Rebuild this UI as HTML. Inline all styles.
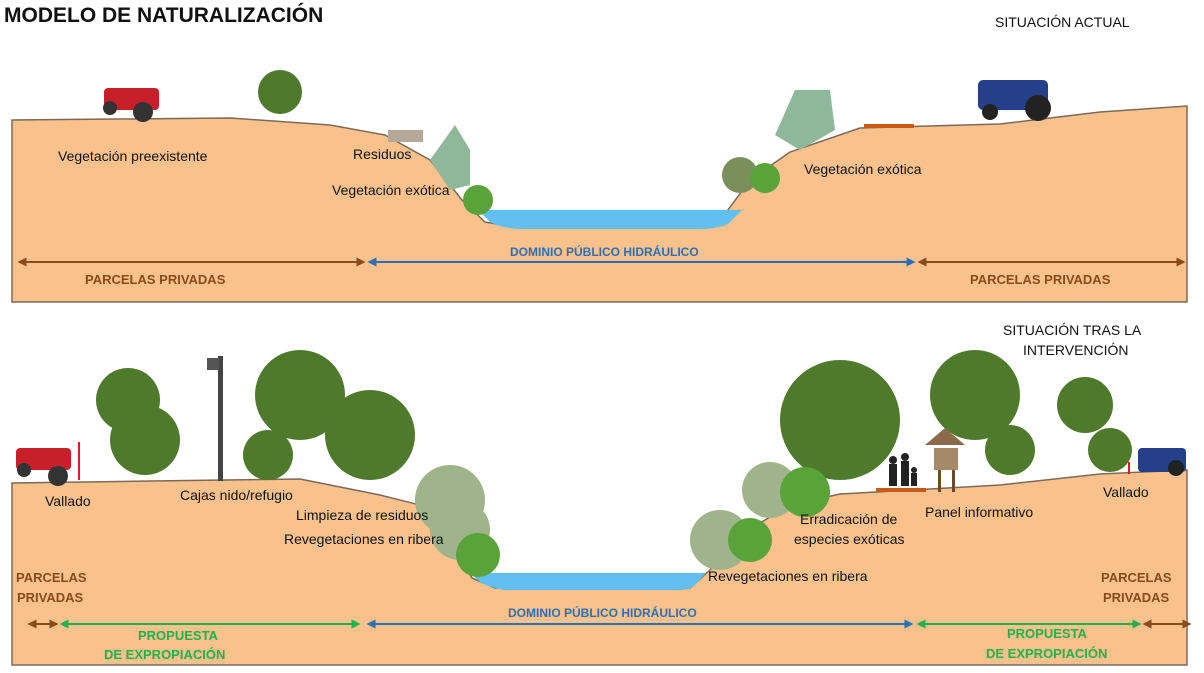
<!DOCTYPE html>
<html><head><meta charset="utf-8"><style>
html,body{margin:0;padding:0;background:#fff;}
svg{display:block;font-family:"Liberation Sans",sans-serif;}
</style></head><body>
<svg width="1204" height="673" viewBox="0 0 1204 673" xmlns="http://www.w3.org/2000/svg">
<defs>
<marker id="ab" viewBox="0 0 10 10" refX="5" refY="5" markerWidth="4.5" markerHeight="4.5" orient="auto-start-reverse"><path d="M0,0L10,5L0,10z" fill="#8a4a1c"/></marker>
<marker id="abl" viewBox="0 0 10 10" refX="5" refY="5" markerWidth="4.5" markerHeight="4.5" orient="auto-start-reverse"><path d="M0,0L10,5L0,10z" fill="#2d6fb6"/></marker>
<marker id="ag" viewBox="0 0 10 10" refX="5" refY="5" markerWidth="4.5" markerHeight="4.5" orient="auto-start-reverse"><path d="M0,0L10,5L0,10z" fill="#22b04a"/></marker>
</defs>
<text x="4" y="22" font-size="21" font-weight="bold" fill="#111">MODELO DE NATURALIZACIÓN</text>
<text x="995" y="27" font-size="14" fill="#111">SITUACIÓN ACTUAL</text>
<text x="1003" y="335" font-size="14" fill="#111">SITUACIÓN TRAS LA</text>
<text x="1023" y="355" font-size="14" fill="#111">INTERVENCIÓN</text>

<path d="M12,120 L230,118 L330,125 L385,135 L430,160 L462,200 L485,222 L520,228 L700,228 L728,210 L750,180 L790,152 L860,128 L1000,124 L1100,112 L1187,106 L1187,302 L12,302Z" fill="#f9c28c" stroke="#7b6a5a" stroke-width="1.5"/>
<path d="M478,210 L742,210 L728,224 Q715,229 700,229 L520,229 Q500,228 490,222Z" fill="#62bff0"/>
<rect x="104" y="88" width="55" height="22" rx="4" fill="#c8202a"/><circle cx="143" cy="112" r="10" fill="#333"/><circle cx="110" cy="108" r="7" fill="#333"/>
<circle cx="280" cy="92" r="22" fill="#4f7a2c"/>
<rect x="388" y="130" width="35" height="12" fill="#b7a99a"/>
<path d="M430,160 L455,125 L470,150 L470,185 L450,190Z" fill="#8fb89a"/>
<circle cx="478" cy="200" r="15" fill="#5aa23a"/><circle cx="740" cy="175" r="18" fill="#7a8f5a"/><circle cx="765" cy="178" r="15" fill="#5aa23a"/>
<path d="M775,135 L795,90 L830,90 L835,130 L800,150Z" fill="#8fb89a"/>
<rect x="864" y="124" width="50" height="4" fill="#c55a1a"/>
<rect x="978" y="80" width="70" height="30" rx="5" fill="#24408a"/><circle cx="1038" cy="108" r="13" fill="#222"/><circle cx="990" cy="112" r="8" fill="#222"/>
<text x="58" y="161" font-size="14" fill="#111">Vegetación preexistente</text>
<text x="353" y="159" font-size="14" fill="#111">Residuos</text>
<text x="332" y="195" font-size="14" fill="#111">Vegetación exótica</text>
<text x="804" y="174" font-size="14" fill="#111">Vegetación exótica</text>
<text x="510" y="256" font-size="12" font-weight="bold" fill="#2d6fb6">DOMINIO PÚBLICO HIDRÁULICO</text>
<line x1="22" y1="262" x2="361" y2="262" stroke="#8a4a1c" stroke-width="2" marker-start="url(#ab)" marker-end="url(#ab)"/>
<line x1="372" y1="262" x2="911" y2="262" stroke="#2d6fb6" stroke-width="2" marker-start="url(#abl)" marker-end="url(#abl)"/>
<line x1="922" y1="262" x2="1181" y2="262" stroke="#8a4a1c" stroke-width="2" marker-start="url(#ab)" marker-end="url(#ab)"/>
<text x="85" y="284" font-size="13" font-weight="bold" fill="#8a4a1c">PARCELAS PRIVADAS</text>
<text x="970" y="284" font-size="13" font-weight="bold" fill="#8a4a1c">PARCELAS PRIVADAS</text>

<path d="M12,483 L150,481 L300,479 L380,495 L420,505 L450,540 L472,578 L495,588 L690,588 L710,570 L740,535 L790,505 L840,494 L930,489 L1000,485 L1100,474 L1187,470 L1187,665 L12,665Z" fill="#f9c28c" stroke="#7b6a5a" stroke-width="1.5"/>
<path d="M470,573 L706,573 L694,586 Q688,590 680,590 L505,590 Q490,588 480,582Z" fill="#62bff0"/>
<g fill="#4f7a2c">
<circle cx="128" cy="400" r="32"/><circle cx="145" cy="440" r="35"/>
<circle cx="300" cy="395" r="45"/><circle cx="268" cy="455" r="25"/><circle cx="370" cy="435" r="45"/>
<circle cx="840" cy="420" r="60"/><circle cx="975" cy="395" r="45"/><circle cx="1010" cy="450" r="25"/>
<circle cx="1085" cy="405" r="28"/><circle cx="1110" cy="450" r="22"/>
</g>
<g fill="#9fb48a"><circle cx="450" cy="500" r="35"/><circle cx="460" cy="530" r="30"/><circle cx="720" cy="540" r="30"/><circle cx="770" cy="490" r="28"/></g>
<g fill="#5aa23a"><circle cx="478" cy="555" r="22"/><circle cx="750" cy="540" r="22"/><circle cx="805" cy="492" r="25"/></g>
<rect x="218" y="356" width="5" height="125" fill="#444"/><rect x="207" y="358" width="12" height="12" fill="#555"/>
<rect x="16" y="448" width="55" height="22" rx="4" fill="#c8202a"/><circle cx="58" cy="476" r="10" fill="#333"/><circle cx="24" cy="470" r="7" fill="#333"/>
<rect x="78" y="442" width="2" height="38" fill="#e01c1c"/>
<rect x="1138" y="448" width="48" height="24" rx="4" fill="#24408a"/><circle cx="1176" cy="468" r="8" fill="#222"/>
<rect x="1128" y="462" width="2" height="12" fill="#e01c1c"/>
<rect x="876" y="488" width="50" height="4" fill="#c55a1a"/>
<g fill="#222"><circle cx="893" cy="460" r="4"/><rect x="889" y="464" width="8" height="22"/><circle cx="905" cy="457" r="4"/><rect x="901" y="461" width="8" height="25"/><circle cx="914" cy="470" r="3"/><rect x="911" y="473" width="6" height="13"/></g>
<path d="M925,445 L945,428 L965,445Z" fill="#8a6a4a"/><rect x="934" y="448" width="24" height="22" fill="#a58a6a"/><rect x="938" y="470" width="3" height="22" fill="#6a4a2a"/><rect x="952" y="470" width="3" height="22" fill="#6a4a2a"/>
<text x="45" y="506" font-size="14" fill="#111">Vallado</text>
<text x="180" y="500" font-size="14" fill="#111">Cajas nido/refugio</text>
<text x="296" y="520" font-size="14" fill="#111">Limpieza de residuos</text>
<text x="284" y="544" font-size="14" fill="#111">Revegetaciones en ribera</text>
<text x="800" y="524" font-size="14" fill="#111">Erradicación de</text>
<text x="794" y="544" font-size="14" fill="#111">especies exóticas</text>
<text x="925" y="517" font-size="14" fill="#111">Panel informativo</text>
<text x="1103" y="497" font-size="14" fill="#111">Vallado</text>
<text x="708" y="581" font-size="14" fill="#111">Revegetaciones en ribera</text>
<text x="16" y="582" font-size="13" font-weight="bold" fill="#8a4a1c">PARCELAS</text>
<text x="17" y="602" font-size="13" font-weight="bold" fill="#8a4a1c">PRIVADAS</text>
<text x="1101" y="582" font-size="13" font-weight="bold" fill="#8a4a1c">PARCELAS</text>
<text x="1103" y="602" font-size="13" font-weight="bold" fill="#8a4a1c">PRIVADAS</text>
<text x="508" y="617" font-size="12" font-weight="bold" fill="#2d6fb6">DOMINIO PÚBLICO HIDRÁULICO</text>
<line x1="32" y1="624" x2="54" y2="624" stroke="#8a4a1c" stroke-width="2" marker-start="url(#ab)" marker-end="url(#ab)"/>
<line x1="64" y1="624" x2="356" y2="624" stroke="#22b04a" stroke-width="2" marker-start="url(#ag)" marker-end="url(#ag)"/>
<line x1="371" y1="624" x2="909" y2="624" stroke="#2d6fb6" stroke-width="2" marker-start="url(#abl)" marker-end="url(#abl)"/>
<line x1="921" y1="624" x2="1137" y2="624" stroke="#22b04a" stroke-width="2" marker-start="url(#ag)" marker-end="url(#ag)"/>
<line x1="1147" y1="624" x2="1187" y2="624" stroke="#8a4a1c" stroke-width="2" marker-start="url(#ab)" marker-end="url(#ab)"/>
<text x="138" y="640" font-size="13" font-weight="bold" fill="#22b04a">PROPUESTA</text>
<text x="104" y="659" font-size="13" font-weight="bold" fill="#22b04a">DE EXPROPIACIÓN</text>
<text x="1007" y="638" font-size="13" font-weight="bold" fill="#22b04a">PROPUESTA</text>
<text x="986" y="658" font-size="13" font-weight="bold" fill="#22b04a">DE EXPROPIACIÓN</text>
</svg>
</body></html>
